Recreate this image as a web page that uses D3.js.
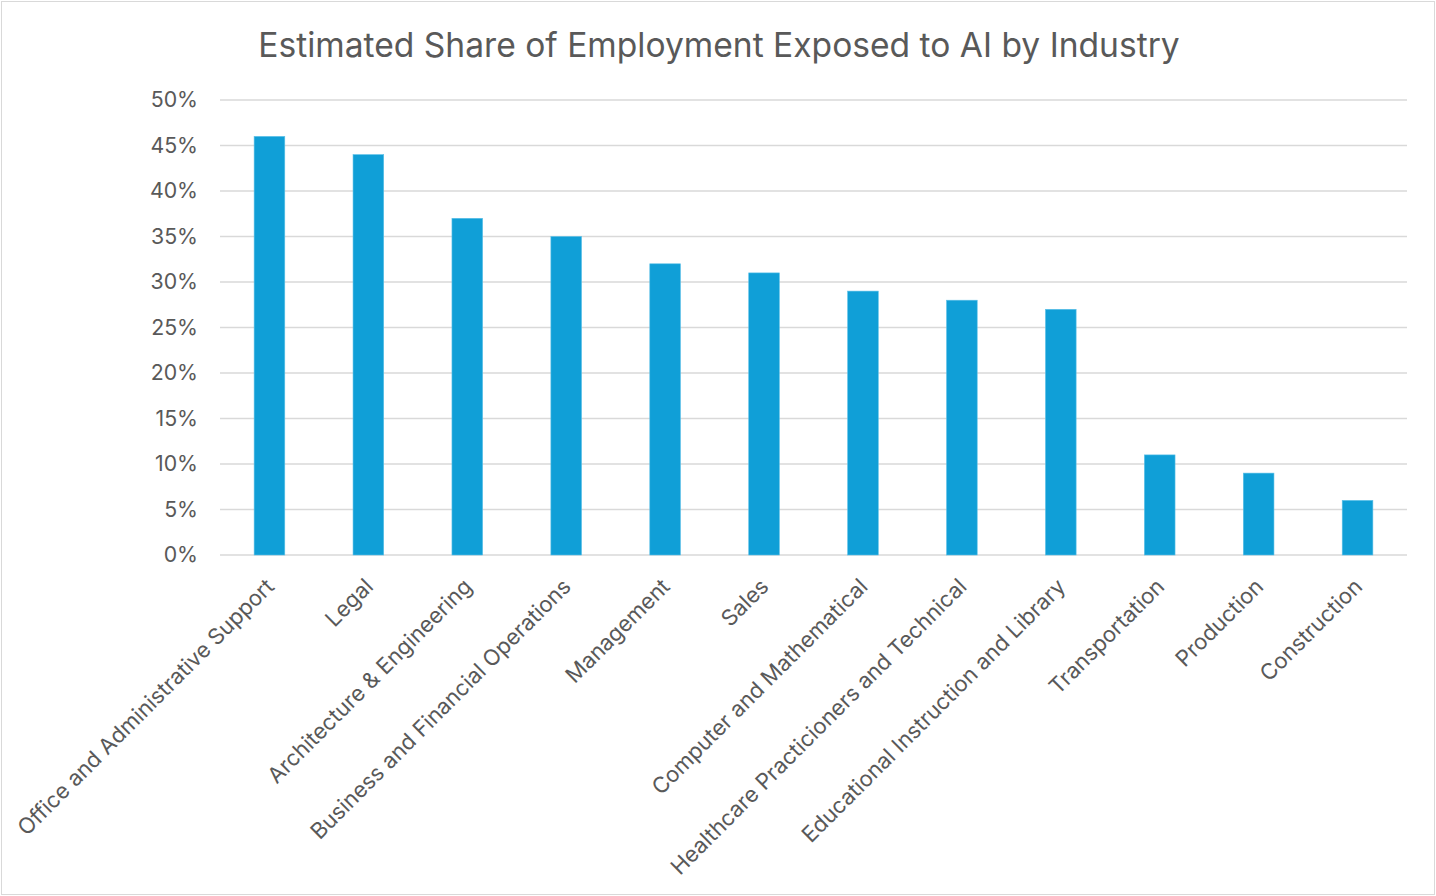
<!DOCTYPE html>
<html><head><meta charset="utf-8">
<script src="https://cdn.jsdelivr.net/npm/d3@7"></script>
<style>body{margin:0;background:#fff;} text{font-family:Inter,"Open Sans",sans-serif;fill:#595959;}</style>
</head><body>
<svg id="c" width="1436" height="896"></svg>
<script>
const categories = ["Office and Administrative Support","Legal","Architecture & Engineering","Business and Financial Operations","Management","Sales","Computer and Mathematical","Healthcare Practicioners and Technical","Educational Instruction and Library","Transportation","Production","Construction"];
const values = [0.46,0.44,0.37,0.35,0.32,0.31,0.29,0.28,0.27,0.11,0.09,0.06];
const yTicks = [0,0.05,0.10,0.15,0.20,0.25,0.30,0.35,0.40,0.45,0.50];
const title = "Estimated Share of Employment Exposed to AI by Industry";

const svg = d3.select("#c");
svg.append("rect").attr("x",1.5).attr("y",1.5).attr("width",1433).attr("height",893).attr("fill","#fff").attr("stroke","#d9d9d9");
const L=220,R=1407,T=100,B=555;
const x = d3.scaleBand().domain(categories).range([L,R]).paddingInner(0.69).paddingOuter(0.345);
const y = d3.scaleLinear().domain([0,0.5]).range([B,T]);

svg.append("text").attr("x",719).attr("y",57).attr("text-anchor","middle").attr("font-size",33.6).text(title);

const g = svg.append("g");
g.selectAll("line.grid").data(yTicks).join("line").attr("class","grid")
  .attr("x1",L).attr("x2",R).attr("y1",d=>y(d)).attr("y2",d=>y(d))
  .attr("stroke","#d9d9d9").attr("stroke-width",1.5);
g.selectAll("text.yt").data(yTicks).join("text").attr("class","yt")
  .attr("x",198).attr("y",d=>y(d)).attr("dy","0.35em").attr("text-anchor","end").attr("font-size",21.3)
  .text(d=>d3.format(".0%")(d));

g.selectAll("rect.bar").data(values).join("rect").attr("class","bar")
  .attr("x",(d,i)=>x(categories[i])).attr("width",x.bandwidth())
  .attr("y",d=>y(d)).attr("height",d=>B-y(d))
  .attr("fill","#109fd7").attr("stroke","#5cc0e8").attr("stroke-width",0.6);

g.selectAll("text.xl").data(categories).join("text").attr("class","xl")
  .attr("transform",d=>`translate(${x(d)+x.bandwidth()/2-5},${577}) rotate(-45)`)
  .attr("text-anchor","end").attr("dy","0.71em").attr("font-size",22)
  .text(d=>d);
</script>
</body></html>
